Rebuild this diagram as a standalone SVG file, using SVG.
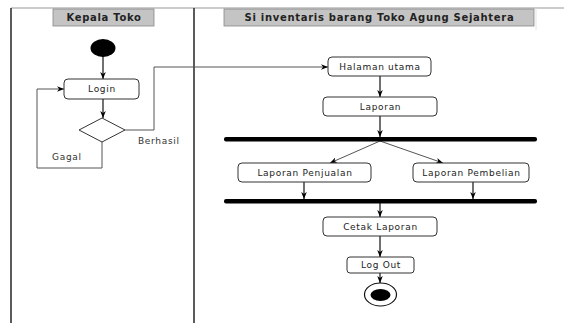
<svg xmlns="http://www.w3.org/2000/svg" width="564" height="323" viewBox="0 0 564 323">
  <defs>
    <style>
      .lane { stroke: #333; stroke-width: 1.6; fill: none; }
      .head { fill: #c4c4c4; stroke: #888; stroke-width: 0.8; }
      .htxt { font-family: "DejaVu Sans", "Liberation Sans", sans-serif; font-size: 10px; font-weight: bold; letter-spacing: 0.7px; fill: #222; text-anchor: middle; }
      .act { fill: #fff; stroke: #333; stroke-width: 1; }
      .txt { font-family: "DejaVu Sans", "Liberation Sans", sans-serif; font-size: 9px; letter-spacing: 0.7px; fill: #222; text-anchor: middle; }
      .lbl { font-family: "DejaVu Sans", "Liberation Sans", sans-serif; font-size: 9px; letter-spacing: 0.7px; fill: #333; }
      .flow { stroke: #111; stroke-width: 1.2; fill: none; marker-end: url(#arr); }
      .flowg { stroke: #555; stroke-width: 1; fill: none; marker-end: url(#arr); }
      .bar { fill: #000; }
    </style>
    <marker id="arr" viewBox="0 0 10 10" refX="10" refY="5" markerWidth="7" markerHeight="7" markerUnits="userSpaceOnUse" orient="auto">
      <path d="M0,1 L10,5 L0,9 L3,5 Z" fill="#000"/>
    </marker>
  </defs>

  <rect width="564" height="323" fill="#fff"/>

  <!-- swimlane frame -->
  <g id="lanes">
    <line x1="11" y1="8" x2="564" y2="8" stroke="#999" stroke-width="1.2"/>
    <line x1="11" y1="8" x2="11" y2="323" class="lane"/>
    <line x1="194" y1="8" x2="194" y2="323" class="lane"/>
    <line x1="536" y1="8" x2="536" y2="30" stroke="#ddd" stroke-width="0.8"/>
  </g>

  <g id="lane-kepala">
    <rect x="53" y="9" width="101" height="17" class="head"/>
    <text x="104" y="21" class="htxt">Kepala Toko</text>
  </g>
  <g id="lane-sistem">
    <rect x="224" y="9" width="310" height="17" class="head"/>
    <text x="379.5" y="21" class="htxt">Si inventaris barang Toko Agung Sejahtera</text>
  </g>

  <!-- connectors -->
  <g id="connectors">
    <line x1="103" y1="56" x2="103" y2="79" class="flow"/>
    <line x1="103" y1="99" x2="103" y2="118" class="flow"/>
    <polyline points="102,142 102,168 37,168 37,89 64,89" class="flowg"/>
    <polyline points="125,130 154,130 154,67 328,67" class="flowg"/>
    <line x1="380" y1="76" x2="380" y2="97" class="flow"/>
    <line x1="380" y1="116" x2="380" y2="137" class="flow"/>
    <line x1="380" y1="141" x2="330" y2="163" class="flowg"/>
    <line x1="380" y1="141" x2="443" y2="163" class="flowg"/>
    <line x1="304" y1="182" x2="304" y2="199" class="flow"/>
    <line x1="473" y1="182" x2="473" y2="199" class="flow"/>
    <line x1="380" y1="203" x2="380" y2="217" class="flow"/>
    <line x1="380" y1="236" x2="380" y2="257" class="flow"/>
    <line x1="380" y1="273" x2="380" y2="283" class="flow"/>
    <text x="52" y="160" class="lbl">Gagal</text>
    <text x="138" y="144" class="lbl">Berhasil</text>
  </g>

  <g id="start">
    <ellipse cx="103" cy="48" rx="12.5" ry="9" fill="#000"/>
  </g>
  <g id="login">
    <rect x="64" y="79" width="75" height="20" rx="4" class="act"/>
    <text x="102" y="92" class="txt">Login</text>
  </g>
  <g id="decision">
    <polygon points="102,118 125,130 102,142 79,130" class="act"/>
  </g>
  <g id="halaman-utama">
    <rect x="328" y="57" width="103" height="19" rx="4" class="act"/>
    <text x="380" y="69.5" class="txt">Halaman utama</text>
  </g>
  <g id="laporan">
    <rect x="323" y="97" width="114" height="19" rx="4" class="act"/>
    <text x="380.5" y="109.5" class="txt">Laporan</text>
  </g>
  <g id="fork">
    <rect x="224" y="137" width="313" height="4.5" rx="2" class="bar"/>
  </g>
  <g id="laporan-penjualan">
    <rect x="238" y="163" width="133" height="19" rx="4" class="act"/>
    <text x="305" y="175.5" class="txt">Laporan Penjualan</text>
  </g>
  <g id="laporan-pembelian">
    <rect x="413" y="163" width="116" height="19" rx="4" class="act"/>
    <text x="471.5" y="175.5" class="txt">Laporan Pembelian</text>
  </g>
  <g id="join">
    <rect x="224" y="199" width="313" height="4.5" rx="2" class="bar"/>
  </g>
  <g id="cetak-laporan">
    <rect x="323" y="217" width="114" height="19" rx="4" class="act"/>
    <text x="380.5" y="229.5" class="txt">Cetak Laporan</text>
  </g>
  <g id="log-out">
    <rect x="347" y="257" width="67" height="16" rx="3" class="act"/>
    <text x="381" y="268" class="txt">Log Out</text>
  </g>
  <g id="end">
    <ellipse cx="380.5" cy="294.5" rx="16" ry="11.5" fill="#fff" stroke="#111" stroke-width="1.2"/>
    <ellipse cx="380.5" cy="295" rx="10" ry="6" fill="#000"/>
  </g>
</svg>
